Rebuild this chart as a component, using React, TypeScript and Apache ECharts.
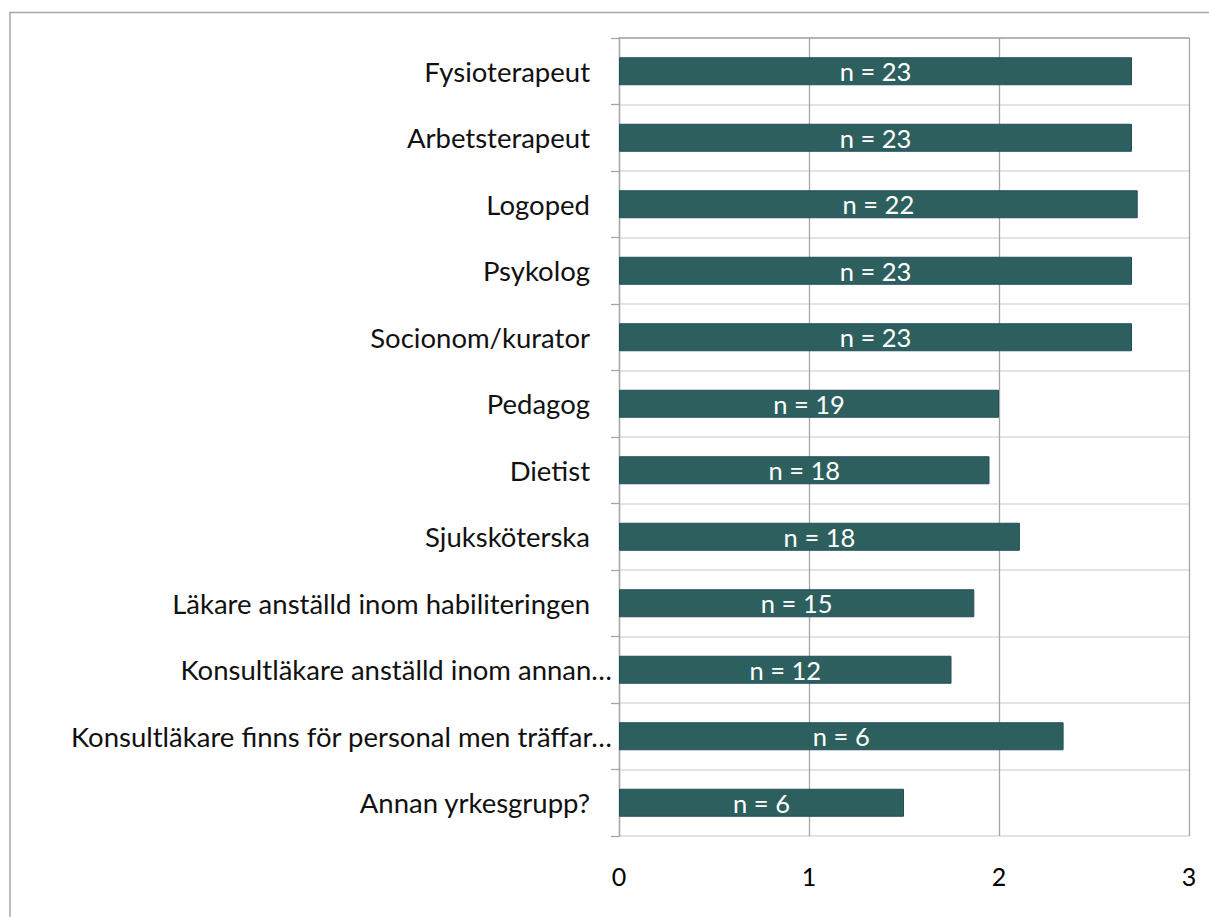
import React, { useEffect, useRef } from "react";
import * as echarts from "echarts";

const categories = [
  "Fysioterapeut",
  "Arbetsterapeut",
  "Logoped",
  "Psykolog",
  "Socionom/kurator",
  "Pedagog",
  "Dietist",
  "Sjuksköterska",
  "Läkare anställd inom habiliteringen",
  "Konsultläkare anställd inom annan…",
  "Konsultläkare finns för personal men träffar…",
  "Annan yrkesgrupp?",
];
const values = [2.7, 2.7, 2.73, 2.7, 2.7, 2.0, 1.95, 2.11, 1.87, 1.75, 2.34, 1.5];
const nLabels = ["n = 23", "n = 23", "n = 22", "n = 23", "n = 23", "n = 19", "n = 18", "n = 18", "n = 15", "n = 12", "n = 6", "n = 6"];
const xTicks = [0, 1, 2, 3];

const FONT = "Lato, 'Open Sans', sans-serif";

export default function App() {
  const ref = useRef<HTMLDivElement>(null);
  useEffect(() => {
    if (!ref.current) return;
    const chart = echarts.init(ref.current, null, { renderer: "svg" });
    chart.setOption({
      animation: false,
      backgroundColor: "#ffffff",
      graphic: [
        {
          type: "rect",
          shape: { x: 10, y: 12.5, width: 1400, height: 1100 },
          style: { fill: "none", stroke: "#a6a6a6", lineWidth: 1.5 },
          silent: true,
        },
      ],
      grid: { left: 619, right: 20, top: 38, bottom: 81, containLabel: false },
      xAxis: [
        {
          type: "value",
          min: xTicks[0],
          max: xTicks[xTicks.length - 1],
          interval: 1,
          position: "bottom",
          axisLine: { show: false },
          axisTick: { show: false },
          splitLine: { show: true, lineStyle: { color: "#a6a6a6", width: 1.3 } },
          axisLabel: { color: "#000", fontSize: 25, fontFamily: FONT, margin: 27 },
        },
        {
          type: "value",
          min: xTicks[0],
          max: xTicks[xTicks.length - 1],
          interval: 1,
          position: "top",
          axisLine: { show: true, lineStyle: { color: "#a6a6a6", width: 1.5 } },
          axisTick: { show: false },
          splitLine: { show: false },
          axisLabel: { show: false },
        },
      ],
      yAxis: {
        type: "category",
        data: categories,
        inverse: true,
        axisLine: { show: true, lineStyle: { color: "#a6a6a6", width: 1.3 } },
        axisTick: { show: true, length: 8, lineStyle: { color: "#a6a6a6", width: 1.3 } },
        splitLine: { show: true, lineStyle: { color: "#e3e3e3", width: 2 } },
        axisLabel: {
          margin: 7,
          formatter: (v: string) => (v.endsWith("…") ? `{t|${v}}` : `{p|${v}}`),
          rich: {
            t: { color: "#111", fontSize: 27.5, fontFamily: FONT },
            p: { color: "#111", fontSize: 27.5, fontFamily: FONT, padding: [0, 22, 0, 0] },
          },
        },
      },
      series: [
        {
          type: "bar",
          xAxisIndex: 0,
          data: values,
          barWidth: 28,
          itemStyle: { color: "#2c5f5d", borderColor: "#244e5c", borderWidth: 1 },
          label: {
            show: true,
            position: "inside",
            color: "#ffffff",
            fontSize: 25.5,
            fontFamily: FONT,
            formatter: (p: any) => nLabels[p.dataIndex],
          },
        },
      ],
    });
    return () => chart.dispose();
  }, []);
  return (
    <div
      ref={ref}
      style={{ position: "fixed", left: 0, top: 0, width: 1209, height: 917 }}
    />
  );
}
